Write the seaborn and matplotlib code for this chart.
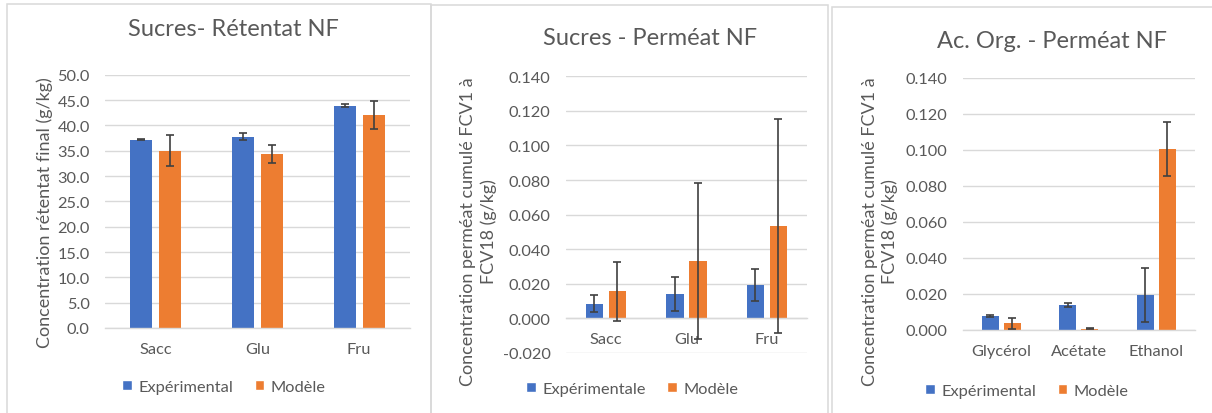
import numpy as np
import pandas as pd
import matplotlib
matplotlib.use("Agg")
import matplotlib.pyplot as plt
import seaborn as sns
from matplotlib.patches import Patch, Rectangle
from matplotlib.ticker import FuncFormatter, MultipleLocator

# --- data ---
sugars = ["Sacc", "Glu", "Fru"]
acids = ["Glycérol", "Acétate", "Ethanol"]

ret_exp = [37.2, 37.8, 43.9]
ret_exp_err = [0.1, 0.6, 0.3]
ret_mod = [35.0, 34.4, 42.1]
ret_mod_err = [3.1, 1.8, 2.8]

perm_exp = [0.0085, 0.0141, 0.0195]
perm_exp_err = [0.0049, 0.0097, 0.0093]
perm_mod = [0.0156, 0.0332, 0.0533]
perm_mod_err = [0.0171, 0.0450, 0.0618]

org_exp = [0.0077, 0.0140, 0.0195]
org_exp_err = [0.0005, 0.0010, 0.0152]
org_mod = [0.0038, 0.0006, 0.1007]
org_mod_err = [0.0030, 0.0003, 0.0149]

BLUE = "#4472C4"
ORANGE = "#ED7D31"
GRID = "#D9D9D9"
TXT = "#595959"
ERR = "#404040"

W, H = 1212, 414

sns.set_theme(style="white")
plt.rcParams["font.family"] = ["Lato", "DejaVu Sans"]
plt.rcParams["text.color"] = TXT
plt.rcParams["axes.labelcolor"] = TXT
plt.rcParams["xtick.color"] = TXT
plt.rcParams["ytick.color"] = TXT


def px_axes(fig, left, right, top, bottom):
    return fig.add_axes([left / W, 1 - bottom / H, (right - left) / W, (bottom - top) / H])


def draw_panel(ax, cats, exp, exp_err, mod, mod_err, labels, title, ylabel,
               ylim, step, fmt, title_xy, ylab_xy, leg_xy, zero_spine=False):
    df = pd.DataFrame({
        "cat": cats * 2,
        "val": list(exp) + list(mod),
        "serie": [labels[0]] * len(cats) + [labels[1]] * len(cats),
    })
    sns.barplot(data=df, x="cat", y="val", hue="serie", palette=[BLUE, ORANGE],
                width=0.57, gap=0.24, errorbar=None, legend=False, ax=ax,
                zorder=2, linewidth=0, saturation=1)
    bars = ax.patches
    xs = [b.get_x() + b.get_width() / 2 for b in bars]
    ax.errorbar(xs[:3], exp, yerr=exp_err, fmt="none", ecolor=ERR,
                elinewidth=1.2, capsize=3, capthick=1.2, zorder=3)
    ax.errorbar(xs[3:6], mod, yerr=mod_err, fmt="none", ecolor=ERR,
                elinewidth=1.2, capsize=3, capthick=1.2, zorder=3)

    ax.set_xlim(-0.5, 2.5)
    ax.set_ylim(*ylim)
    ax.yaxis.set_major_locator(MultipleLocator(step))
    ax.yaxis.set_major_formatter(FuncFormatter(lambda v, p: fmt.format(v)))
    ax.yaxis.grid(True, color=GRID, linewidth=1.0, zorder=0)
    ax.set_axisbelow(True)
    for s in ["top", "right", "left"]:
        ax.spines[s].set_visible(False)
    ax.spines["bottom"].set_color(GRID)
    ax.spines["bottom"].set_linewidth(1.0)
    if zero_spine:
        ax.spines["bottom"].set_position(("data", 0))
    ax.tick_params(axis="y", length=0, pad=11, labelsize=11.8)
    ax.tick_params(axis="x", length=0, pad=10, labelsize=11.8)
    ax.set_xlabel("")

    # positions in pixels converted to axes fractions
    bb = ax.get_position()
    def to_ax(px, py):
        fx, fy = px / W, 1 - py / H
        return (fx - bb.x0) / bb.width, (fy - bb.y0) / bb.height

    tx, ty = to_ax(*title_xy)
    ax.set_title(title, x=tx, y=ty, va="center", ha="center", pad=0,
                 fontsize=17, color=TXT)
    lx, ly = to_ax(*ylab_xy)
    ax.set_ylabel(ylabel, fontsize=13, multialignment="center", linespacing=1.3)
    ax.yaxis.set_label_coords(lx, ly)
    ax.yaxis.label.set_verticalalignment("center")

    handles = [Patch(facecolor=BLUE), Patch(facecolor=ORANGE)]
    gx, gy = to_ax(*leg_xy)
    ax.legend(handles, labels, loc="center", bbox_to_anchor=(gx, gy),
              ncol=2, frameon=False, fontsize=11.8, handlelength=0.6,
              handleheight=0.6, handletextpad=0.4, columnspacing=1.3,
              labelcolor=TXT)


fig = plt.figure(figsize=(W / 100, H / 100), dpi=100)
fig.patch.set_facecolor("white")

# panel frames
for (x0, y0, x1) in [(7, 5, 431), (431, 6, 828), (832, 8, 1214)]:
    fig.add_artist(Rectangle((x0 / W, -0.05), (x1 - x0) / W, 1.05 - y0 / H,
                             transform=fig.transFigure, fill=False,
                             edgecolor=GRID, linewidth=1.1))

ax1 = px_axes(fig, 105, 410, 75.7, 329)
draw_panel(ax1, sugars, ret_exp, ret_exp_err, ret_mod, ret_mod_err,
           ["Expérimental", "Modèle"], "Sucres- Rétentat NF",
           "Concentration rétentat final (g/kg)",
           (0, 50), 5, "{:.1f}", (233, 30), (45, 213), (224, 388))

ax2 = px_axes(fig, 565.7, 807, 77.3, 354)
draw_panel(ax2, sugars, perm_exp, perm_exp_err, perm_mod, perm_mod_err,
           ["Expérimentale", "Modèle"], "Sucres - Perméat NF",
           "Concentration perméat cumulé FCV1 à\nFCV18 (g/kg)",
           (-0.02, 0.14), 0.02, "{:.3f}", (650, 38), (478.5, 232), (632, 390),
           zero_spine=True)

ax3 = px_axes(fig, 962.7, 1195, 79, 331)
draw_panel(ax3, acids, org_exp, org_exp_err, org_mod, org_mod_err,
           ["Expérimental", "Modèle"], "Ac. Org. - Perméat NF",
           "Concentration perméat cumulé FCV1 à\nFCV18 (g/kg)",
           (0, 0.14), 0.02, "{:.3f}", (1052, 42), (880, 232), (1027, 392))

fig.savefig("out.png", dpi=100)
